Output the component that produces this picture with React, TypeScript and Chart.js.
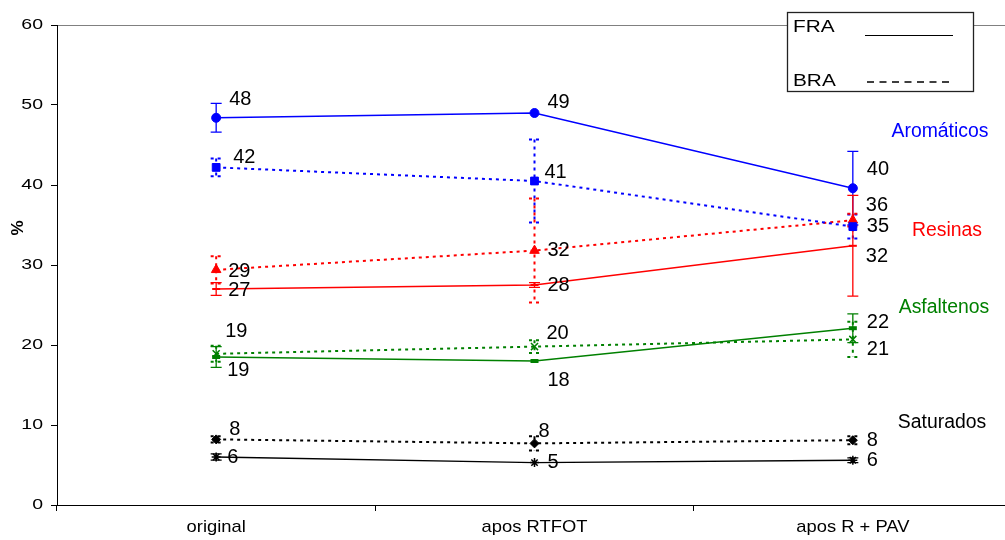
import React, { useEffect, useRef } from "react";
import { Chart, registerables } from "chart.js";

Chart.register(...registerables);

// ---------- DATA ----------
const categories = ["original", "apos RTFOT", "apos R + PAV"];
const yTickLabels = ["0", "10", "20", "30", "40", "50", "60"];
const legendNames = ["FRA", "BRA"];
const groupNames = ["Aromáticos", "Resinas", "Asfaltenos", "Saturados"];

const aromaticosFRA = [48.4, 49.0, 39.6];
const aromaticosFRAErr = [1.8, 0, 4.6];
const aromaticosFRALabels = ["48", "49", "40"];

const aromaticosBRA = [42.2, 40.5, 34.8];
const aromaticosBRAErr = [1.1, 5.2, 1.5];
const aromaticosBRALabels = ["42", "41", "35"];

const resinasFRA = [27.0, 27.5, 32.4];
const resinasFRAErr = [0.8, 0.3, 6.3];
const resinasFRALabels = ["27", "28", "32"];

const resinasBRA = [29.4, 31.8, 35.6];
const resinasBRAErr = [1.7, 6.5, 0.8];
const resinasBRALabels = ["29", "32", "36"];

const asfaltenosFRA = [18.5, 18.0, 22.1];
const asfaltenosFRAErr = [1.3, 0, 1.8];
const asfaltenosFRALabels = ["19", "18", "22"];

const asfaltenosBRA = [18.9, 19.8, 20.7];
const asfaltenosBRAErr = [1.0, 0.8, 2.2];
const asfaltenosBRALabels = ["19", "20", "21"];

const saturadosFRA = [6.0, 5.3, 5.6];
const saturadosFRAErr = [0.4, 0, 0.3];
const saturadosFRALabels = ["6", "5", "6"];

const saturadosBRA = [8.2, 7.7, 8.1];
const saturadosBRAErr = [0.4, 0.9, 0.5];
const saturadosBRALabels = ["8", "8", "8"];

// ---------- STYLE ----------
const BLUE = "#0000FF";
const RED = "#FF0000";
const GREEN = "#008000";
const BLACK = "#000000";
const FONT = '"Liberation Sans", Arial, sans-serif';
const DOT = [3, 4];

// label offsets (px) relative to each point, per category
const labelOffsets: Record<string, number[][]> = {
  aromFRA: [[13, -18], [13, -11], [14, -19]],
  aromBRA: [[17, -10], [10, -9], [14, 0]],
  resFRA: [[12, 1], [13, 0], [13, 11]],
  resBRA: [[12, 2], [13, 0], [13, -15]],
  asfFRA: [[11, 13], [13, 19], [14, -6]],
  asfBRA: [[9, -22], [12, -13], [14, 10]],
  satFRA: [[11, 0], [13, 0], [14, 0]],
  satBRA: [[13, -10], [4, -12], [14, 0]],
};
const groupNamePos = [
  [940, 131],
  [947, 230],
  [944, 307],
  [942, 422],
];
const groupColors = [BLUE, RED, GREEN, BLACK];

type Series = {
  key: string;
  values: number[];
  err: number[];
  labels: string[];
  color: string;
  dotted: boolean;
  pointStyle: string;
  radius: number;
  pointBorderWidth: number;
};

const series: Series[] = [
  { key: "aromFRA", values: aromaticosFRA, err: aromaticosFRAErr, labels: aromaticosFRALabels, color: BLUE, dotted: false, pointStyle: "circle", radius: 4.5, pointBorderWidth: 1 },
  { key: "aromBRA", values: aromaticosBRA, err: aromaticosBRAErr, labels: aromaticosBRALabels, color: BLUE, dotted: true, pointStyle: "rect", radius: 5.5, pointBorderWidth: 1 },
  { key: "resFRA", values: resinasFRA, err: resinasFRAErr, labels: resinasFRALabels, color: RED, dotted: false, pointStyle: "line", radius: 4, pointBorderWidth: 2 },
  { key: "resBRA", values: resinasBRA, err: resinasBRAErr, labels: resinasBRALabels, color: RED, dotted: true, pointStyle: "triangle", radius: 5.5, pointBorderWidth: 1 },
  { key: "asfFRA", values: asfaltenosFRA, err: asfaltenosFRAErr, labels: asfaltenosFRALabels, color: GREEN, dotted: false, pointStyle: "line", radius: 4, pointBorderWidth: 4 },
  { key: "asfBRA", values: asfaltenosBRA, err: asfaltenosBRAErr, labels: asfaltenosBRALabels, color: GREEN, dotted: true, pointStyle: "crossRot", radius: 5, pointBorderWidth: 1.5 },
  { key: "satFRA", values: saturadosFRA, err: saturadosFRAErr, labels: saturadosFRALabels, color: BLACK, dotted: false, pointStyle: "star", radius: 4.5, pointBorderWidth: 1.5 },
  { key: "satBRA", values: saturadosBRA, err: saturadosBRAErr, labels: saturadosBRALabels, color: BLACK, dotted: true, pointStyle: "rectRot", radius: 4.5, pointBorderWidth: 1 },
];

function drawText(
  ctx: CanvasRenderingContext2D,
  text: string,
  x: number,
  y: number,
  font: string,
  color: string,
  align: CanvasTextAlign,
  sx = 1
) {
  ctx.save();
  ctx.font = font;
  ctx.fillStyle = color;
  ctx.textAlign = align;
  ctx.textBaseline = "middle";
  ctx.translate(x, y);
  ctx.scale(sx, 1);
  ctx.fillText(text, 0, 0);
  ctx.restore();
}

const overlayPlugin = {
  id: "overlay",
  beforeDatasetsDraw(chart: any) {
    const ctx: CanvasRenderingContext2D = chart.ctx;
    const yS = chart.scales.y;
    series.forEach((s, i) => {
      const meta = chart.getDatasetMeta(i);
      s.err.forEach((e, j) => {
        if (!e) return;
        const x = meta.data[j].x;
        const yt = yS.getPixelForValue(s.values[j] + e);
        const yb = yS.getPixelForValue(s.values[j] - e);
        ctx.save();
        ctx.strokeStyle = s.color;
        ctx.lineWidth = s.dotted ? 2 : 1.3;
        ctx.setLineDash(s.dotted ? DOT : []);
        ctx.beginPath();
        ctx.moveTo(x, yt);
        ctx.lineTo(x, yb);
        ctx.moveTo(x - 5.5, yt);
        ctx.lineTo(x + 5.5, yt);
        ctx.moveTo(x - 5.5, yb);
        ctx.lineTo(x + 5.5, yb);
        ctx.stroke();
        ctx.restore();
      });
    });
  },
  afterDraw(chart: any) {
    const ctx: CanvasRenderingContext2D = chart.ctx;
    const xS = chart.scales.x;
    const yS = chart.scales.y;

    // value labels
    series.forEach((s, i) => {
      const meta = chart.getDatasetMeta(i);
      s.labels.forEach((t, j) => {
        const p = meta.data[j];
        const off = labelOffsets[s.key][j];
        drawText(ctx, t, p.x + off[0], p.y + off[1], `20px ${FONT}`, BLACK, "left");
      });
    });

    // group names
    groupNames.forEach((g, i) => {
      drawText(ctx, g, groupNamePos[i][0], groupNamePos[i][1], `20px ${FONT}`, groupColors[i], "center", 0.97);
    });

    // y tick labels
    yTickLabels.forEach((t) => {
      const y = yS.getPixelForValue(Number(t));
      drawText(ctx, t, 43, y, `15px ${FONT}`, BLACK, "right", 1.3);
    });

    // y title
    ctx.save();
    ctx.translate(18, 228);
    ctx.rotate(-Math.PI / 2);
    ctx.font = `bold 17px ${FONT}`;
    ctx.fillStyle = BLACK;
    ctx.textAlign = "center";
    ctx.textBaseline = "middle";
    ctx.fillText("%", 0, 0);
    ctx.restore();

    // x labels
    categories.forEach((c, i) => {
      const x = xS.getPixelForValue(i);
      drawText(ctx, c, x, 527, `17px ${FONT}`, BLACK, "center", 1.08);
    });

    // legend box
    ctx.save();
    ctx.fillStyle = "#ffffff";
    ctx.fillRect(787, 12, 186, 79);
    ctx.strokeStyle = "#222";
    ctx.lineWidth = 1.3;
    ctx.strokeRect(787.5, 12.5, 186, 79);
    ctx.restore();
    drawText(ctx, legendNames[0], 793, 27.5, `16px ${FONT}`, BLACK, "left", 1.3);
    drawText(ctx, legendNames[1], 793, 82, `16px ${FONT}`, BLACK, "left", 1.3);
    ctx.save();
    ctx.strokeStyle = BLACK;
    ctx.lineWidth = 1.2;
    ctx.beginPath();
    ctx.moveTo(865, 35.5);
    ctx.lineTo(953, 35.5);
    ctx.stroke();
    ctx.lineWidth = 1.6;
    ctx.beginPath();
    for (let k = 0; k < 7; k++) {
      const x0 = 867 + k * 12.5;
      ctx.moveTo(x0, 82);
      ctx.lineTo(x0 + 7, 82);
    }
    ctx.stroke();
    ctx.restore();
  },
};

export default function App() {
  const ref = useRef<HTMLCanvasElement | null>(null);

  useEffect(() => {
    if (!ref.current) return;
    const chart = new Chart(ref.current, {
      type: "line",
      data: {
        labels: categories,
        datasets: series.map((s) => ({
          label: s.key,
          data: s.values,
          borderColor: s.color,
          backgroundColor: s.color,
          borderWidth: s.dotted ? 2 : 1.4,
          borderDash: s.dotted ? DOT : [],
          pointStyle: s.pointStyle as any,
          pointRadius: s.radius,
          pointBackgroundColor: s.color,
          pointBorderColor: s.color,
          pointBorderWidth: s.pointBorderWidth,
          tension: 0,
          fill: false,
        })),
      },
      options: {
        animation: false,
        responsive: false,
        devicePixelRatio: 1,
        layout: { padding: { top: 25, left: 0, right: 0, bottom: 0 } },
        plugins: {
          legend: { display: false },
          tooltip: { enabled: false },
        },
        scales: {
          x: {
            type: "category",
            offset: true,
            grid: {
              offset: true,
              color: "rgba(0,0,0,0)",
              tickColor: BLACK,
              tickLength: 6,
              drawTicks: true,
            },
            border: { display: true, color: BLACK, width: 1 },
            ticks: { display: false },
            afterFit: (s: any) => {
              s.height = 35;
            },
          },
          y: {
            min: 0,
            max: 60,
            ticks: { display: false, stepSize: 10 },
            grid: {
              color: (c: any) => (c.tick && c.tick.value === 60 ? "#808080" : "rgba(0,0,0,0)"),
              tickColor: BLACK,
              tickLength: 6,
              drawTicks: true,
            },
            border: { display: true, color: BLACK, width: 1 },
            afterFit: (s: any) => {
              s.width = 57;
            },
          },
        },
      },
      plugins: [overlayPlugin],
    });
    return () => chart.destroy();
  }, []);

  return (
    <div
      style={{
        position: "fixed",
        left: 0,
        top: 0,
        width: 1005,
        height: 540,
        overflow: "hidden",
        background: "#fff",
      }}
    >
      <canvas ref={ref} width={1020} height={540} style={{ width: 1020, height: 540, display: "block" }} />
    </div>
  );
}
